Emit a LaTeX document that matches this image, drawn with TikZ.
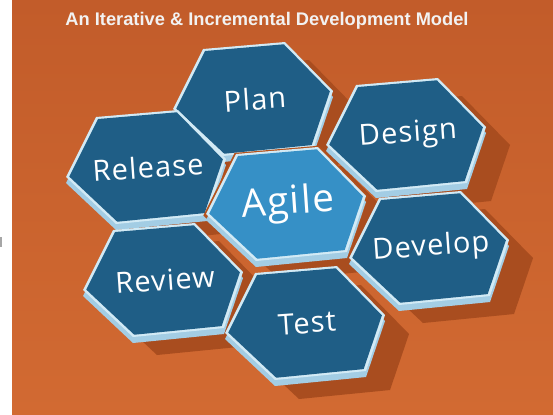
\documentclass[tikz,border=0pt]{standalone}
\usepackage{fontspec}
\setmainfont{Open Sans}
\newfontfamily\titlefont{Liberation Sans}
\newfontfamily\tilefont[LetterSpace=4]{Open Sans}
\usetikzlibrary{positioning}
\definecolor{bgtop}{HTML}{C25C2A}
\definecolor{bgbottom}{HTML}{D26A32}
\definecolor{shadoworange}{HTML}{A94D1F}
\definecolor{sideblue}{HTML}{A3CDE4}
\definecolor{rimblue}{HTML}{D2EAF5}
\definecolor{faceblue}{HTML}{1F5E86}
\definecolor{agileblue}{HTML}{3690C6}
\definecolor{agileedge}{HTML}{B4521C}
\tikzset{
  tileshadow/.style={fill=shadoworange},
  tileside/.style={fill=sideblue},
  tilerim/.style={fill=rimblue},
  tilelabel/.style={text=white,font=\tilefont\fontsize{16.5}{19}\selectfont,rotate=4,inner sep=0pt},
  titletext/.style={text=white!95!black,font=\titlefont\bfseries\fontsize{10.4}{12}\selectfont,inner sep=0pt}
}
% one hexagon, around the current origin
\newcommand*{\hexagon}[1]{\path[#1] (-52,-50) -- (30,-57) -- (78,-8) -- (59,48) -- (-32,57) -- (-82,10) -- cycle;}
% tile: [label style]{name}{x}{y}{face}{text}
\newcommand*{\tile}[6][]{%
  \begin{scope}[shift={(#3,#4)}]
    \begin{scope}[shift={(0,6)}]\hexagon{tileside}\end{scope}
    \hexagon{tilerim}
    \begin{scope}[scale=.96]\hexagon{fill=#5}\end{scope}
  \end{scope}
  \node[tilelabel,#1] (#2) at (#3,#4) {#6};}

\begin{document}
\begin{tikzpicture}[x=0.02cm,y=-0.02cm]
\useasboundingbox (0,0) rectangle (553,414);
\fill[white] (0,0) rectangle (553,414);
\shade[top color=bgtop,bottom color=bgbottom] (12,0) rectangle (553,414);
\fill[gray!70] (0,237) rectangle (1.5,247);
\node[titletext] (title) at (267,21) {An Iterative \& Incremental Development Model};
% shadows first
\foreach \x/\y in {255/99,408/135,148/167,288/205,431/248,165/280,307/324}
  {\begin{scope}[shift={(\x+24,\y+18)}]\hexagon{tileshadow}\end{scope}}
\tile{plan}{255}{99}{faceblue}{Plan}
\tile{design}{408}{135}{faceblue}{Design}
\tile{release}{148}{167}{faceblue}{Release}
\begin{scope}[shift={(288,205)}]
  \hexagon{draw=agileedge,line width=2.5pt}
\end{scope}
\tile[font=\tilefont\fontsize{22}{26}\selectfont]{agile}{288}{204}{agileblue}{Agile}
\tile{develop}{431}{248}{faceblue}{Develop}
\tile{review}{165}{280}{faceblue}{Review}
\tile{test}{307}{323}{faceblue}{Test}
\end{tikzpicture}
\end{document}
